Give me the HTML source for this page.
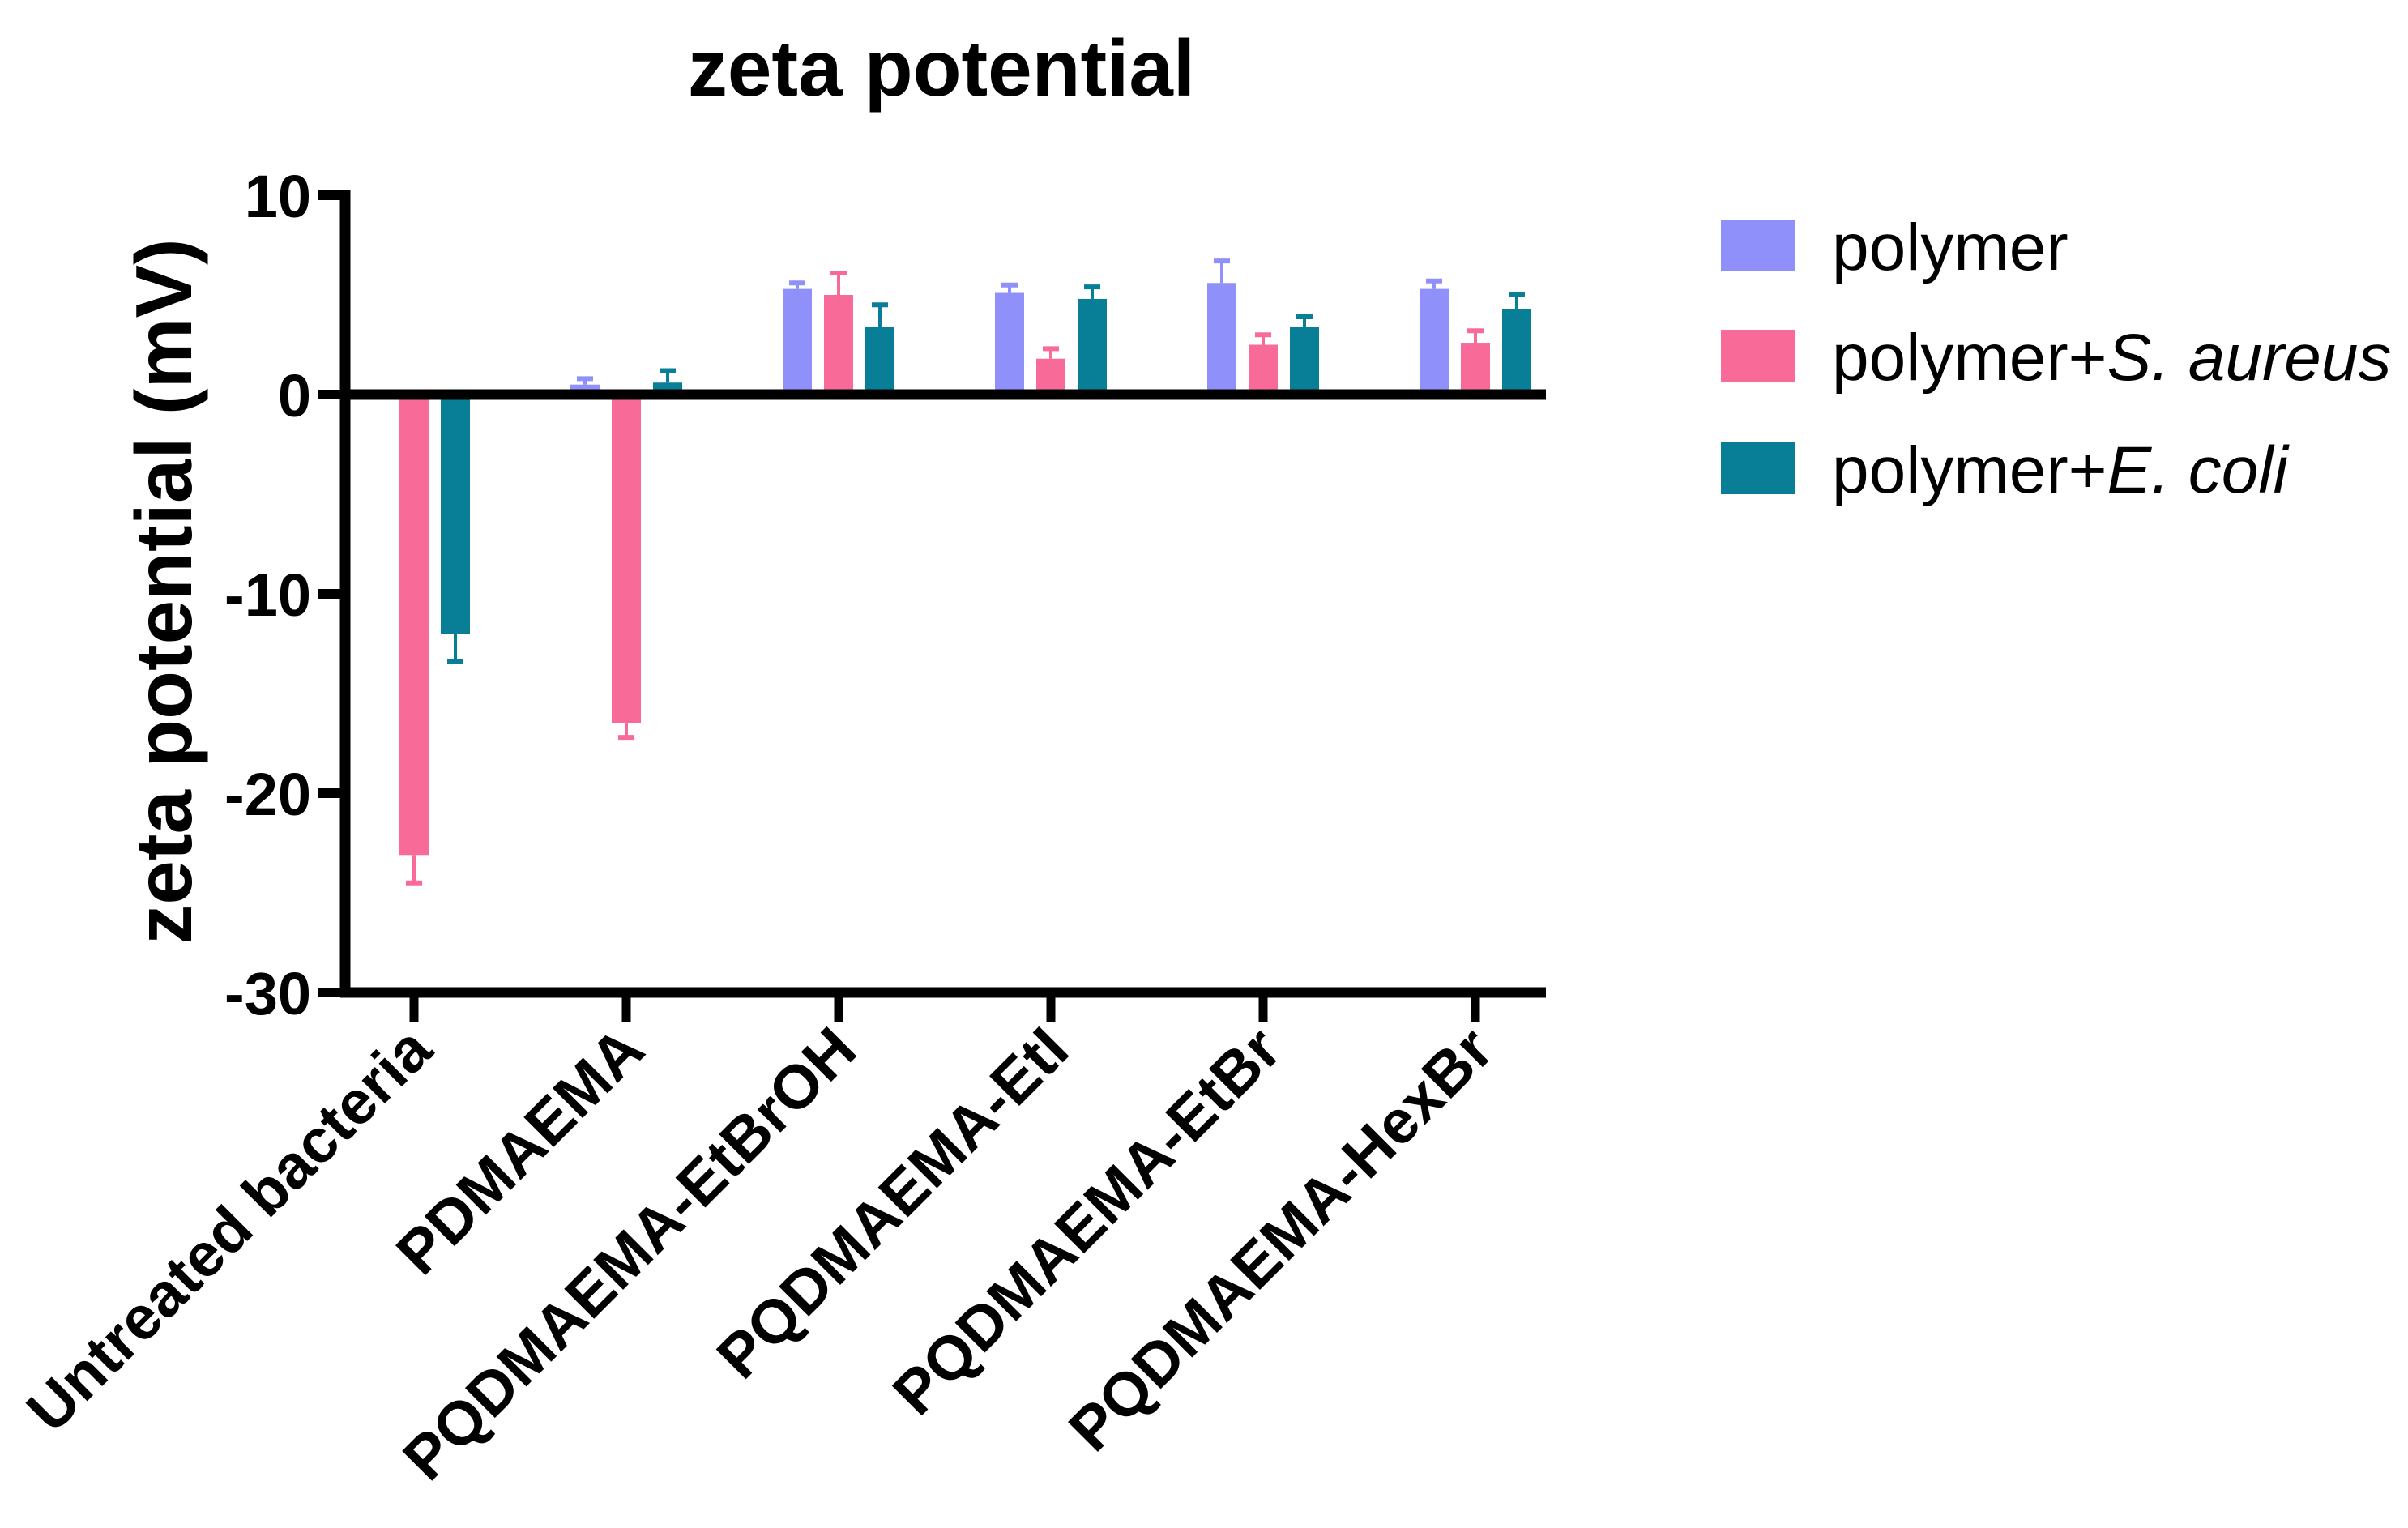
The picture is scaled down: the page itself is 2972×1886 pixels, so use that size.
<!DOCTYPE html>
<html><head><meta charset="utf-8"><style>
html,body{margin:0;padding:0;background:#fff}
svg{display:block}
text{font-family:"Liberation Sans",Arial,sans-serif;fill:#000}
</style></head><body>
<svg id="chart" width="2972" height="1886" viewBox="0 0 2972 1886">
<text x="1162" y="118" font-size="98" font-weight="bold" text-anchor="middle">zeta potential</text>
<text transform="translate(236,730) rotate(-90)" font-size="98" font-weight="bold" text-anchor="middle">zeta potential (mV)</text>
<g id="plot"></g>
<g id="legend"></g>
</svg>
<script>
const categories = ["Untreated bacteria","PDMAEMA","PQDMAEMA-EtBrOH","PQDMAEMA-EtI","PQDMAEMA-EtBr","PQDMAEMA-HexBr"];
const polymerVals = [0, 0.5, 5.3, 5.1, 5.6, 5.3];
const polymerErr = [0, 0.3, 0.3, 0.4, 1.1, 0.4];
const aureusVals = [-23.1, -16.5, 5.0, 1.8, 2.5, 2.6];
const aureusErr = [1.4, 0.7, 1.1, 0.5, 0.5, 0.6];
const coliVals = [-12.0, 0.6, 3.4, 4.8, 3.4, 4.3];
const coliErr = [1.4, 0.6, 1.1, 0.6, 0.5, 0.7];
const yTicks = [10, 0, -10, -20, -30];
const seriesNames = ["polymer","polymer+S. aureus","polymer+E. coli"];

const NS = "http://www.w3.org/2000/svg";
const plot = document.getElementById('plot');
const legend = document.getElementById('legend');
const colors = ["#9090fa","#f86b99","#087f96"];
const x0 = 426, x1 = 1908, y0px = 487, pxPer = 24.6;
function yS(v){ return y0px - v * pxPer; }
function xC(i){ return 511 + i * 262; }
function mk(tag, attrs, parent){ const e = document.createElementNS(NS, tag); for (const k in attrs) e.setAttribute(k, attrs[k]); parent.appendChild(e); return e; }

const series = [[polymerVals, polymerErr],[aureusVals, aureusErr],[coliVals, coliErr]];
const bw = 36, off = 51;
series.forEach((s, si) => {
  s[0].forEach((v, ci) => {
    if (v === 0) return;
    const cx = xC(ci) + (si - 1) * off;
    const top = Math.min(yS(v), yS(0)), h = Math.abs(yS(v) - yS(0));
    const r = mk('rect', {x: cx - bw/2, y: top, width: bw, height: h, fill: colors[si]}, plot);
    
    
    const ev = v >= 0 ? v + s[1][ci] : v - s[1][ci];
    const l = mk('line', {x1: cx, x2: cx, y1: yS(v), y2: yS(ev), stroke: colors[si], 'stroke-width': 4}, plot);
    
    
    const c = mk('line', {x1: cx - 10, x2: cx + 10, y1: yS(ev), y2: yS(ev), stroke: colors[si], 'stroke-width': 6}, plot);
    
    
  });
});

const ya = mk('line', {x1: x0, x2: x0, y1: yS(10) - 6, y2: yS(-30) + 6, stroke: '#000', 'stroke-width': 13}, plot);


const zl = mk('line', {x1: x0, x2: x1, y1: yS(0), y2: yS(0), stroke: '#000', 'stroke-width': 13}, plot);


const xa = mk('line', {x1: x0 - 6, x2: x1, y1: yS(-30), y2: yS(-30), stroke: '#000', 'stroke-width': 13}, plot);



yTicks.forEach(t => {
  const tk = mk('line', {x1: 392, x2: x0, y1: yS(t), y2: yS(t), stroke: '#000', 'stroke-width': 12}, plot);
  
  
  const tl = mk('text', {x: 384, y: yS(t) + 27, 'font-size': 74, 'font-weight': 'bold', 'text-anchor': 'end'}, plot);
  tl.textContent = String(t);
  
  
});

categories.forEach((c, i) => {
  const x = xC(i);
  const tk = mk('line', {x1: x, x2: x, y1: yS(-30), y2: 1262, stroke: '#000', 'stroke-width': 11}, plot);
  
  
  const tl = mk('text', {transform: 'translate(' + (x + 26) + ',1300) rotate(-45)', 'font-size': 76, 'font-weight': 'bold', 'text-anchor': 'end'}, plot);
  tl.textContent = c;
  
  
});

const legY = [271, 407, 546];
seriesNames.forEach((n, i) => {
  const sw = mk('rect', {x: 2124, y: legY[i], width: 91, height: 64, fill: colors[i]}, legend);
  
  
  const t = mk('text', {x: 2261, y: legY[i] + 62, 'font-size': 82}, legend);
  
  
  if (i === 0) { t.textContent = n; }
  else {
    const a = mk('tspan', {}, t); a.textContent = 'polymer+';
    const b = mk('tspan', {'font-style': 'italic'}, t); b.textContent = n.replace('polymer+', '');
  }
});
</script>
</body></html>
